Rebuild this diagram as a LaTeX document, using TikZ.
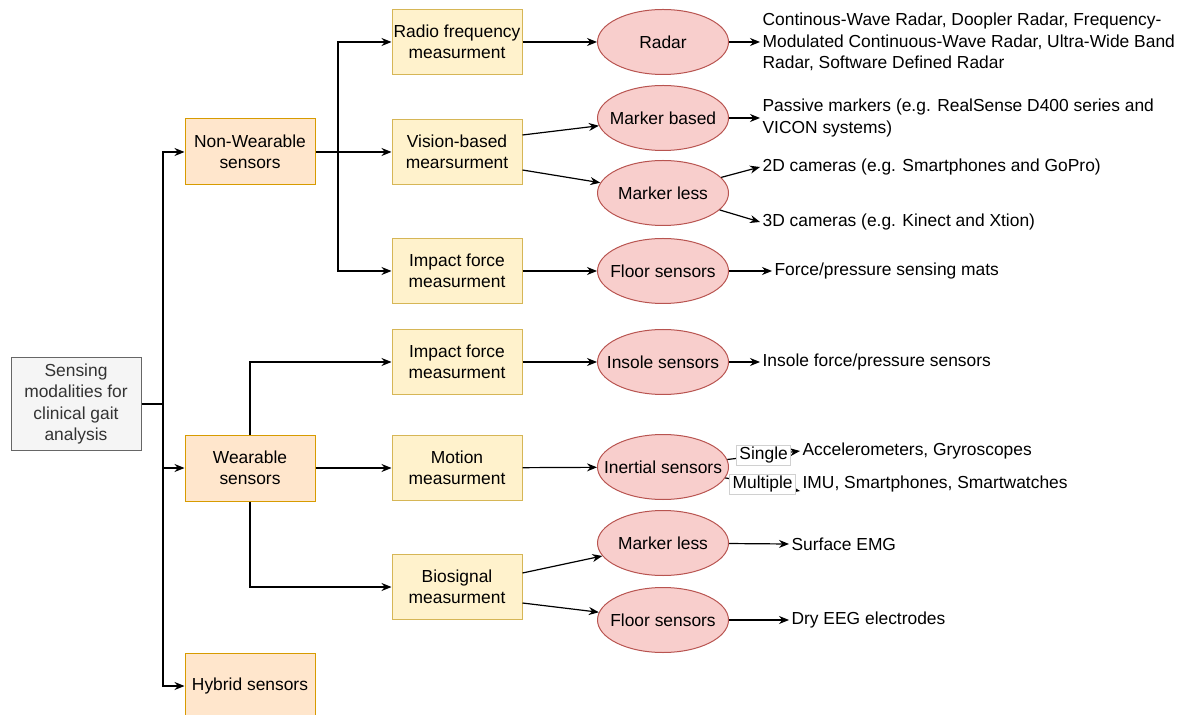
\documentclass[tikz,border=0pt]{standalone}
\usepackage{fontspec}
\setmainfont{Liberation Sans}
\usetikzlibrary{arrows.meta}
\usetikzlibrary{positioning}
\usetikzlibrary{shapes.geometric}

\definecolor{rootfill}{HTML}{F5F5F5}
\definecolor{rootline}{HTML}{666666}
\definecolor{roottext}{HTML}{333333}
\definecolor{sensfill}{HTML}{FFE6CC}
\definecolor{sensline}{HTML}{D79B00}
\definecolor{measfill}{HTML}{FFF2CC}
\definecolor{measline}{HTML}{D6B656}
\definecolor{techfill}{HTML}{F8CECC}
\definecolor{techline}{HTML}{B85450}
\definecolor{lblline}{HTML}{D0D0D0}

\newcommand{\elltext}[1]{\makebox[0pt]{#1}}

\tikzset{
  diag/.style={font=\fontsize{8.7}{10.65}\selectfont, line width=0.6pt, >={Stealth[length=5pt,width=4pt]}},
  rootbox/.style={draw=rootline, fill=rootfill, text=roottext, line width=0.5pt, minimum width=65pt, minimum height=46pt, align=center, inner sep=0pt},
  sensbox/.style={draw=sensline, fill=sensfill, line width=0.5pt, minimum width=65pt, minimum height=33pt, align=center, inner sep=0pt},
  measbox/.style={draw=measline, fill=measfill, line width=0.5pt, minimum width=65pt, minimum height=32.5pt, align=center, inner sep=0pt},
  techell/.style={ellipse, draw=techline, fill=techfill, line width=0.5pt, minimum width=65.5pt, minimum height=32.5pt, inner sep=0pt},
  outtext/.style={anchor=west, align=left, inner sep=1pt},
  edgelbl/.style={draw=lblline, fill=white, line width=0.4pt, inner xsep=1.5pt, inner ysep=1pt}
}

\begin{document}
\begin{tikzpicture}[x=0.5pt,y=-0.5pt,diag]
    \useasboundingbox (0,0) rectangle (1181,715);

    % left column
    \node[rootbox] (root) at (76,404) {Sensing\\modalities for\\clinical gait\\analysis};
    \node[sensbox] (nonwear) at (250,152) {Non-Wearable\\sensors};
    \node[sensbox] (wear) at (250,468) {Wearable\\sensors};
    \node[sensbox] (hybrid) at (250,686) {Hybrid sensors};

    % measurement boxes
    \node[measbox] (radio) at (457,42) {Radio frequency\\measurment};
    \node[measbox] (vision) at (457,152) {Vision-based\\mearsurment};
    \node[measbox] (impactnw) at (457,271) {Impact force\\measurment};
    \node[measbox] (impactw) at (457,362) {Impact force\\measurment};
    \node[measbox] (motion) at (457,468) {Motion\\measurment};
    \node[measbox] (biosig) at (457,587) {Biosignal\\measurment};

    % technologies
    \node[techell] (radar) at (663,42) {\elltext{Radar}};
    \node[techell] (markerb) at (663,118) {\elltext{Marker based}};
    \node[techell] (markerl) at (663,193) {\elltext{Marker less}};
    \node[techell] (floornw) at (663,271) {\elltext{Floor sensors}};
    \node[techell] (insole) at (663,362) {\elltext{Insole sensors}};
    \node[techell] (inertial) at (663,467) {\elltext{Inertial sensors}};
    \node[techell] (emgless) at (663,543) {\elltext{Marker less}};
    \node[techell] (eegfloor) at (663,620) {\elltext{Floor sensors}};

    % examples
    \node[outtext] (radartxt) at (760,42) {Continous-Wave Radar, Doopler Radar, Frequency-\\Modulated Continuous-Wave Radar, Ultra-Wide Band\\Radar, Software Defined Radar};
    \node[outtext] (passive) at (760,118) {Passive markers (e.g. RealSense D400 series and\\VICON systems)};
    \node[outtext] (twod) at (760,167) {2D cameras (e.g. Smartphones and GoPro)};
    \node[outtext] (threed) at (760,222) {3D cameras (e.g. Kinect and Xtion)};
    \node[outtext] (mats) at (772,271) {Force/pressure sensing mats};
    \node[outtext] (insoletxt) at (760,362) {Insole force/pressure sensors};
    \node[outtext] (accel) at (800,451) {Accelerometers, Gryroscopes};
    \node[outtext] (imu) at (800,484) {IMU, Smartphones, Smartwatches};
    \node[outtext] (emg) at (789,544) {Surface EMG};
    \node[outtext] (eeg) at (789,620) {Dry EEG electrodes};

    \coordinate (rootsplit) at (163,404);
    \coordinate (nwsplit) at (338,152);

    \draw (root) -- (rootsplit);
    \draw[->] (rootsplit) |- (nonwear);
    \draw[->] (rootsplit) |- (wear);
    \draw[->] (rootsplit) |- (hybrid);

    \draw (nonwear) -- (nwsplit);
    \draw[->] (nwsplit) |- (radio);
    \draw[->] (nwsplit) -- (vision);
    \draw[->] (nwsplit) |- (impactnw);

    \draw[->] (wear.north) |- (impactw);
    \draw[->] (wear) -- (motion);
    \draw[->] (wear.south) |- (biosig);

    \draw[->] (radio) -- (radar);
    \draw[->] ([yshift=8.5pt]vision.east) -- (markerb);
    \draw[->] ([yshift=-9pt]vision.east) -- (markerl);
    \draw[->] (impactnw) -- (floornw);
    \draw[->] (impactw) -- (insole);
    \draw[->] (motion) -- (inertial);
    \draw[->] ([yshift=7pt]biosig.east) -- (emgless);
    \draw[->] ([yshift=-8pt]biosig.east) -- (eegfloor);

    \draw[->] (radar) -- (radartxt.west);
    \draw[->] (markerb) -- (passive.west);
    \draw[->] (markerl) -- (twod.west);
    \draw[->] (markerl) -- (threed.west);
    \draw[->] (floornw) -- (mats.west);
    \draw[->] (insole) -- (insoletxt.west);
    \draw[->] (inertial) -- node[edgelbl] {Single} (accel.west);
    \draw[->] (inertial) -- node[edgelbl] {Multiple} ([yshift=-3.5pt]imu.west);
    \draw[->] (emgless) -- (emg.west);
    \draw[->] (eegfloor) -- (eeg.west);
  \end{tikzpicture}
\end{document}
